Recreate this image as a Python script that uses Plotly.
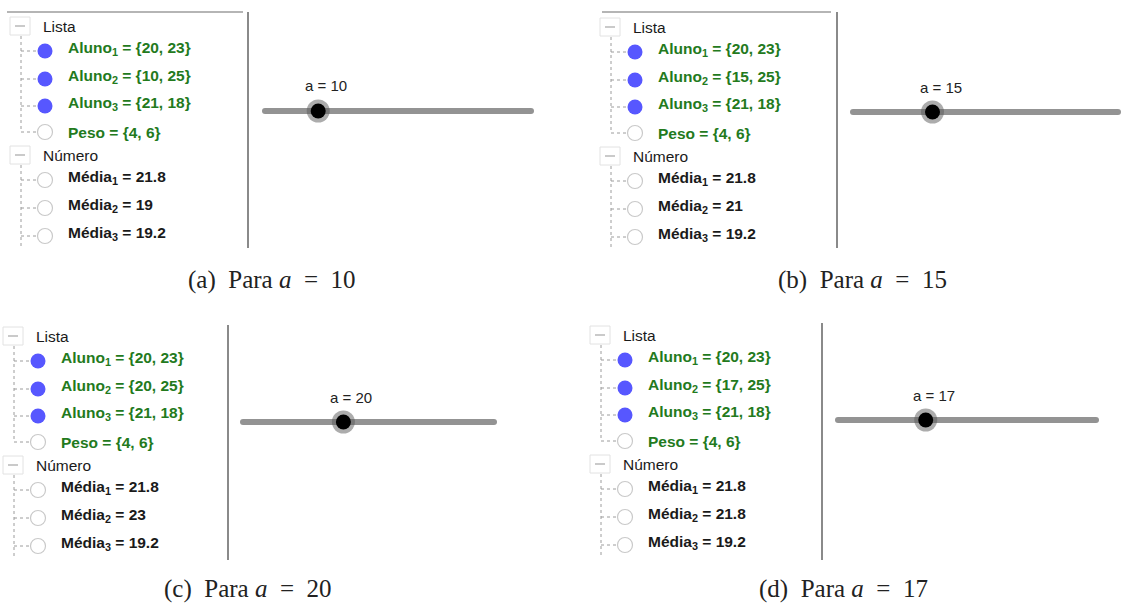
import plotly.graph_objects as go

W, H = 1121, 604

# ---------------- data ----------------
panel_tags = ["(a)", "(b)", "(c)", "(d)"]
a_values = [10, 15, 20, 17]
slider_min, slider_max = 0, 50

aluno1 = [20, 23]
aluno2 = [[10, 25], [15, 25], [20, 25], [17, 25]]
aluno3 = [21, 18]
peso = [4, 6]
media1 = [21.8, 21.8, 21.8, 21.8]
media2 = [19, 21, 23, 21.8]
media3 = [19.2, 19.2, 19.2, 19.2]

group_titles = ["Lista", "Número"]

# ---------------- geometry (pixels) ----------------
panels = [
    dict(tree_x=21, top=26, sep_x=248, sep_y=(12, 248), top_line=(7, 243, 12),
         slider=(265, 531, 111), caption=(272, 280)),
    dict(tree_x=611, top=27, sep_x=837, sep_y=(12, 248), top_line=(602, 831, 12),
         slider=(853, 1118, 112), caption=(862, 280)),
    dict(tree_x=14, top=336, sep_x=228, sep_y=(325, 560), top_line=None,
         slider=(243, 494, 422), caption=(248, 589)),
    dict(tree_x=601, top=335, sep_x=822, sep_y=(323, 560), top_line=None,
         slider=(838, 1096, 420), caption=(843, 589)),
]
ROW_ALUNO = [25, 53, 80]
ROW_PESO = 106
ROW_NUM = 129
ROW_MEDIA = [154, 182, 210]

GREEN = "#237a1d"
BLUE = "#5757ff"
DARK = "#1a1a1a"
SANS = "Liberation Sans, Arial, sans-serif"


def fmt(v):
    return f"{v:g}"


def fmt_list(vals):
    return "{" + ", ".join(fmt(v) for v in vals) + "}"


fig = go.Figure()
shapes = []
annotations = []

for i, p in enumerate(panels):
    tx, top = p["tree_x"], p["top"]
    cx = tx + 24
    txt_x = cx + 21
    hdr_x = tx + 20

    y0s, y1s = p["sep_y"]
    shapes.append(dict(type="line", xref="x", yref="y", x0=p["sep_x"], x1=p["sep_x"],
                       y0=y0s, y1=y1s, line=dict(color="#8a8a8a", width=2)))
    if p["top_line"]:
        lx0, lx1, ly = p["top_line"]
        shapes.append(dict(type="line", xref="x", yref="y", x0=lx0, x1=lx1, y0=ly, y1=ly,
                           line=dict(color="#b5b5b5", width=2)))

    for g, off in enumerate([0, ROW_NUM]):
        yy = top + off
        shapes.append(dict(type="rect", xref="x", yref="y", x0=tx - 11, x1=tx + 9,
                           y0=yy - 9, y1=yy + 9, line=dict(color="#e2e2e2", width=1),
                           fillcolor="white"))
        shapes.append(dict(type="line", xref="x", yref="y", x0=tx - 6, x1=tx + 4,
                           y0=yy, y1=yy, line=dict(color="#b8b8b8", width=1.5)))
        annotations.append(dict(x=hdr_x, y=yy, xref="x", yref="y", text=group_titles[g],
                                showarrow=False, xanchor="left", yanchor="middle",
                                font=dict(family=SANS, size=15.5, color=DARK)))

    shapes.append(dict(type="line", xref="x", yref="y", x0=tx, x1=tx, y0=top + 10,
                       y1=top + ROW_PESO, line=dict(color="#9c9c9c", width=1, dash="dot")))
    shapes.append(dict(type="line", xref="x", yref="y", x0=tx, x1=tx, y0=top + ROW_NUM + 10,
                       y1=top + 222, line=dict(color="#9c9c9c", width=1, dash="dot")))
    for off in ROW_ALUNO + [ROW_PESO] + ROW_MEDIA:
        shapes.append(dict(type="line", xref="x", yref="y", x0=tx, x1=cx - 8,
                           y0=top + off, y1=top + off,
                           line=dict(color="#9c9c9c", width=1, dash="dot")))

    alunos = [aluno1, aluno2[i], aluno3]
    for k, off in enumerate(ROW_ALUNO):
        annotations.append(dict(x=txt_x, y=top + off, xref="x", yref="y",
                                text=f"<b>Aluno<sub>{k + 1}</sub> = {fmt_list(alunos[k])}</b>",
                                showarrow=False, xanchor="left", yanchor="middle", yshift=3,
                                font=dict(family=SANS, size=15.5, color=GREEN)))
    annotations.append(dict(x=txt_x, y=top + ROW_PESO, xref="x", yref="y",
                            text=f"<b>Peso = {fmt_list(peso)}</b>",
                            showarrow=False, xanchor="left", yanchor="middle",
                            font=dict(family=SANS, size=15.5, color=GREEN)))
    medias = [media1[i], media2[i], media3[i]]
    for k, off in enumerate(ROW_MEDIA):
        annotations.append(dict(x=txt_x, y=top + off, xref="x", yref="y",
                                text=f"<b>Média<sub>{k + 1}</sub> = {fmt(medias[k])}</b>",
                                showarrow=False, xanchor="left", yanchor="middle", yshift=3,
                                font=dict(family=SANS, size=15.5, color=DARK)))

    fig.add_trace(go.Scatter(
        x=[cx] * 3, y=[top + o for o in ROW_ALUNO], mode="markers", xaxis="x", yaxis="y",
        marker=dict(size=15, color=BLUE, line=dict(width=0)), hoverinfo="skip"))
    fig.add_trace(go.Scatter(
        x=[cx] * 4, y=[top + o for o in [ROW_PESO] + ROW_MEDIA], mode="markers",
        xaxis="x", yaxis="y",
        marker=dict(size=15, color="white", line=dict(width=1.2, color="#c9c9c9")),
        hoverinfo="skip"))

    # slider on its own axis (range = slider min..max)
    n = i + 2
    sx0, sx1, sy = p["slider"]
    xa, ya = f"x{n}", f"y{n}"
    fig.add_trace(go.Scatter(x=[slider_min, slider_max], y=[0, 0], mode="lines+markers",
                             xaxis=xa, yaxis=ya, line=dict(color="#939393", width=6),
                             marker=dict(size=6, color="#939393"),
                             hoverinfo="skip", cliponaxis=False))
    fig.add_trace(go.Scatter(x=[a_values[i]], y=[0], mode="markers", xaxis=xa, yaxis=ya,
                             marker=dict(size=23, color="rgba(90,90,90,0.5)"),
                             hoverinfo="skip", cliponaxis=False))
    fig.add_trace(go.Scatter(x=[a_values[i]], y=[0], mode="markers", xaxis=xa, yaxis=ya,
                             marker=dict(size=15, color="black"),
                             hoverinfo="skip", cliponaxis=False))
    annotations.append(dict(x=a_values[i], y=0, xref=xa, yref=ya,
                            text=f"a = {a_values[i]}", showarrow=False,
                            xanchor="center", yanchor="middle", xshift=8, yshift=25,
                            font=dict(family=SANS, size=15, color="#222")))
    fig.layout[f"xaxis{n}"] = dict(domain=[sx0 / W, sx1 / W], range=[slider_min, slider_max],
                                   visible=False, anchor=ya, fixedrange=True)
    fig.layout[f"yaxis{n}"] = dict(domain=[1 - (sy + 14) / H, 1 - (sy - 14) / H],
                                   range=[-1, 1], visible=False, anchor=xa, fixedrange=True)

    ccx, ccy = p["caption"]
    annotations.append(dict(x=ccx, y=ccy, xref="x", yref="y",
                            text=f"{panel_tags[i]}&nbsp; Para <i>a</i> &nbsp;=&nbsp; {a_values[i]}",
                            showarrow=False, xanchor="center", yanchor="middle",
                            font=dict(family="Liberation Serif, Times New Roman, serif",
                                      size=25, color="#222")))

fig.update_layout(
    width=W, height=H, margin=dict(l=0, r=0, t=0, b=0),
    paper_bgcolor="white", plot_bgcolor="white", showlegend=False,
    xaxis=dict(range=[0, W], domain=[0, 1], visible=False, fixedrange=True),
    yaxis=dict(range=[H, 0], domain=[0, 1], visible=False, fixedrange=True),
    shapes=shapes, annotations=annotations,
)

fig.write_html("out.html", config={"displayModeBar": False},
               post_script="document.body.style.margin='0';document.body.style.overflow='hidden';")
